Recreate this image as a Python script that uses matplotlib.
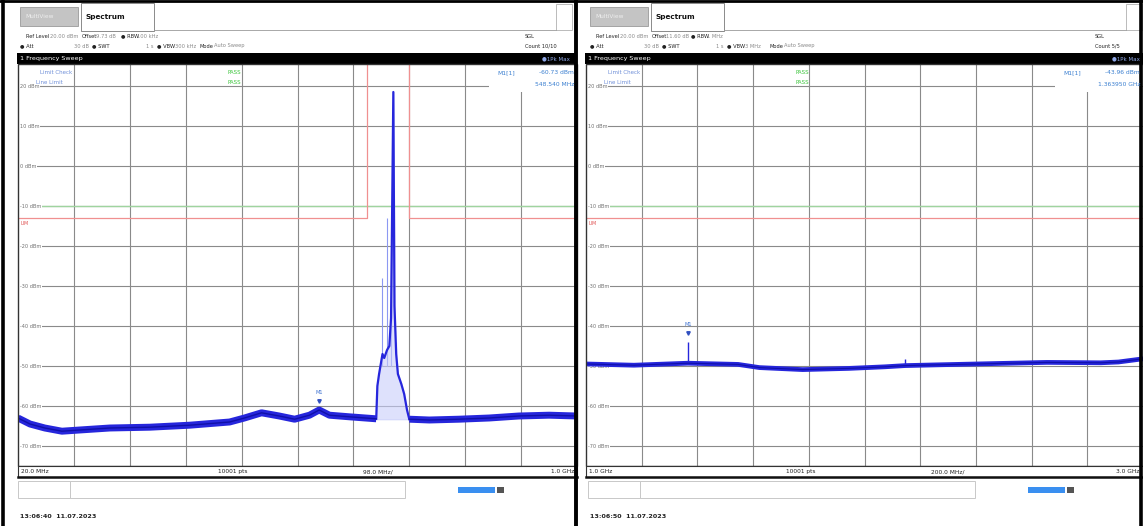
import numpy as np
import matplotlib
matplotlib.use("Agg")
import matplotlib.pyplot as plt
from matplotlib.patches import Rectangle

W, H = 1143, 526

# ---------------- data ----------------
# left sweep: 20 MHz .. 1 GHz (MHz, dBm)
left_noise_lo_f = [20, 41, 67, 97, 128, 181, 251, 321, 391, 417, 447, 478, 505, 531, 548, 566, 601, 648]
left_noise_lo_db = [-63, -64.5, -65.5, -66.3, -66, -65.5, -65.3, -64.8, -64, -63, -61.7, -62.5, -63.3,
                    -62.3, -61, -62.3, -62.7, -63.2]
left_signal_f = [648, 650, 653, 659, 662, 667, 671, 674, 678, 680, 683, 686, 692, 697, 702, 706]
left_signal_db = [-63.2, -55, -52, -47, -48, -46, -45, -38, 18.5, -35, -47, -52, -54.5, -57, -61, -63.3]
left_noise_hi_f = [706, 741, 793, 846, 898, 951, 1000]
left_noise_hi_db = [-63.3, -63.5, -63.3, -63, -62.5, -62.3, -62.5]
left_maxhold_f = [659, 667, 674, 683]
left_maxhold_db = [-28, -13, -20, -44]
left_limit_f = [20, 632, 632, 706, 706, 1000]
left_limit_db = [-13, -13, 40, 40, -13, -13]
left_marker = (548, -61)

# right sweep: 1 GHz .. 3 GHz (GHz, dBm)
right_f = [1.004, 1.172, 1.366, 1.546, 1.623, 1.778, 1.944, 2.074, 2.145, 2.268, 2.461, 2.655, 2.848, 2.912, 3.0]
right_db = [-49.5, -49.8, -49.3, -49.6, -50.4, -50.9, -50.6, -50.2, -49.9, -49.7, -49.4, -49.1, -49.2, -49.0, -48.2]
right_spike_f = [1.366, 2.145]
right_spike_db = [-44.0, -48.3]
right_limit_db = -13
right_marker = (1.366, -44.0)

display_line_db = -10
y_ticks = [20, 10, 0, -10, -20, -30, -40, -50, -60, -70]
y_labels = ["20 dBm", "10 dBm", "0 dBm", "-10 dBm", "-20 dBm", "-30 dBm", "-40 dBm", "-50 dBm", "-60 dBm", "-70 dBm"]

panels = [
    dict(x0=0, plot=(18, 64, 577, 466), xlim=(20, 1000), xstep=98,
         info=("20.00 dBm", "9.73 dB", "100 kHz", "30 dB", "1 s", "300 kHz", "Count 10/10"),
         xlab=("20.0 MHz", "10001 pts", "98.0 MHz/", "1.0 GHz"),
         mval=("-60.73 dBm", "548.540 MHz"), stamp="13:06:40  11.07.2023"),
    dict(x0=570, plot=(586, 64, 1143, 466), xlim=(1.0, 3.0), xstep=0.2,
         info=("20.00 dBm", "11.60 dB", "1 MHz", "30 dB", "1 s", "3 MHz", "Count 5/5"),
         xlab=("1.0 GHz", "10001 pts", "200.0 MHz/", "3.0 GHz"),
         mval=("-43.96 dBm", "1.363950 GHz"), stamp="13:06:50  11.07.2023"),
]

plt.rcParams['font.family'] = ['DejaVu Sans']
fig = plt.figure(figsize=(W / 100, H / 100), dpi=100)
fig.patch.set_facecolor('white')

def frac(x0, y0, x1, y1):
    return [x0 / W, 1 - y1 / H, (x1 - x0) / W, (y1 - y0) / H]

TRACE = '#2626dc'
DARK = '#1010a8'
GRID = '#8a8a8a'
GREEN = '#9fd49f'
RED = '#f09090'

axes = []
for i, p in enumerate(panels):
    ax = fig.add_axes(frac(*p['plot']))
    ax.set_zorder(1)
    ax.set_xlim(*p['xlim'])
    ax.set_ylim(-75, 25.5)
    xt = [p['xlim'][0] + k * p['xstep'] for k in range(1, 10)]
    ax.set_xticks(xt)
    ax.set_yticks(y_ticks)
    ax.tick_params(length=0, labelbottom=False, labelleft=False)
    ax.grid(True, color=GRID, lw=0.8)
    for s in ax.spines.values():
        s.set_visible(False)
    ax.axhline(display_line_db, color=GREEN, lw=1.0, zorder=2)
    if i == 0:
        ax.plot(left_limit_f, left_limit_db, color=RED, lw=0.9, zorder=2)
        ax.vlines(left_maxhold_f, -50, left_maxhold_db, color='#8c98f2', lw=0.8, zorder=4)
        for f, d in [(left_noise_lo_f, left_noise_lo_db), (left_noise_hi_f, left_noise_hi_db)]:
            ax.plot(f, d, color=TRACE, lw=5.0, solid_capstyle='butt', zorder=5)
            ax.plot(f, d, color=DARK, lw=1.0, zorder=6)
        ax.fill_between(left_signal_f, left_noise_hi_db[0], left_signal_db, color='#c8cdfa', alpha=0.6, zorder=4)
        ax.plot(left_signal_f, left_signal_db, color=TRACE, lw=1.6, zorder=5)
        mx, my = left_marker
    else:
        ax.axhline(right_limit_db, color=RED, lw=0.9, zorder=2)
        base = np.interp(right_spike_f, right_f, right_db)
        ax.vlines(right_spike_f, base, right_spike_db, color=TRACE, lw=1.0, zorder=5)
        ax.plot(right_f, right_db, color=TRACE, lw=3.4, zorder=5)
        ax.plot(right_f, right_db, color=DARK, lw=0.8, zorder=6)
        mx, my = right_marker
    ax.plot([mx], [my + 2.2], marker='v', ms=2.5, color='#3050c0', zorder=7)
    ax.text(mx, my + 4.3, "M1", fontsize=3.6, color='#3a6fd0', ha='center', va='center', zorder=7)
    for t, lab in zip(y_ticks, y_labels):
        ax.text(0.004, t, lab, transform=ax.get_yaxis_transform(), fontsize=3.6, color='#707070',
                ha='left', va='center', zorder=3,
                bbox=dict(boxstyle='square,pad=0.15', fc='white', ec='none'))
    ax.text(0.004, -14.3, "LIM", transform=ax.get_yaxis_transform(), fontsize=3.4, color='#e05050',
            ha='left', va='center', zorder=3)
    axes.append(ax)

# ---------------- chrome overlay ----------------
ov = fig.add_axes([0, 0, 1, 1])
ov.set_zorder(2)
ov.patch.set_alpha(0)
ov.set_xlim(0, W)
ov.set_ylim(H, 0)
ov.axis('off')

def txt(x, y, s, size=3.7, color='#222222', weight='normal', ha='left'):
    ov.text(x, y, s, fontsize=size, color=color, fontweight=weight, ha=ha, va='center')

for i, p in enumerate(panels):
    o = p['x0']
    px0, py0, px1, py1 = p['plot']
    right_edge = 572 + o
    # tabs
    ov.add_patch(Rectangle((20 + o, 7), 58, 19, fc='#c4c4c4', ec='#9a9a9a', lw=0.6))
    txt(25 + o, 17, "MultiView", size=4.2, color='#eeeeee')
    ov.add_patch(Rectangle((81 + o, 3), 73, 28, fc='white', ec='#8a8a8a', lw=0.7))
    txt(86 + o, 17, "Spectrum", size=5.2, color='#111111', weight='bold')
    ov.plot([154 + o, 556 + o], [30, 30], color='#9a9a9a', lw=0.6)
    ov.add_patch(Rectangle((556 + o, 4), 16, 26, fc='white', ec='#b0b0b0', lw=0.6))
    # info lines
    v = p['info']
    g = '#8a8a8a'
    txt(26 + o, 36, "Ref Level"); txt(50 + o, 36, v[0], color=g)
    txt(82 + o, 36, "Offset"); txt(96 + o, 36, v[1], color=g)
    txt(121 + o, 36, "\u25CF RBW"); txt(137 + o, 36, v[2], color=g)
    txt(20 + o, 46, "\u25CF Att"); txt(74 + o, 46, v[3], color=g)
    txt(92 + o, 46, "\u25CF SWT"); txt(146 + o, 46, v[4], color=g)
    txt(157 + o, 46, "\u25CF VBW"); txt(175 + o, 46, v[5], color=g)
    txt(200 + o, 46, "Mode"); txt(214 + o, 46, "Auto Sweep", color=g)
    txt(525 + o, 36, "SGL")
    txt(525 + o, 46, v[6])
    # black title bar
    bx = 17 + o if i == 0 else px0 - 1
    ov.add_patch(Rectangle((bx, 53), right_edge + 4 - bx, 11, fc='black', ec='none'))
    txt(px0 + 2, 58.5, "1 Frequency Sweep", size=4.6, color='white')
    txt(right_edge - 2, 58.5, "\u25CF1Pk Max", size=4.0, color='#8fa8e8', ha='right')
    # marker readout box
    ov.add_patch(Rectangle((px1 - 88, py0), 85, 28, fc='white', ec='none'))
    txt(px1 - 80, 73, "M1[1]", size=4.3, color='#3a7fd0')
    txt(px1 - 3, 73, p['mval'][0], size=4.3, color='#3a7fd0', ha='right')
    txt(px1 - 3, 84, p['mval'][1], size=4.3, color='#3a7fd0', ha='right')
    # limit check text
    txt(px0 + 22, 73, "Limit Check", size=4.0, color='#6f8fd8')
    txt(px0 + 18, 83, "Line Limit", size=4.0, color='#6f8fd8')
    txt(px0 + 210, 73, "PASS", size=4.0, color='#3cc43c')
    txt(px0 + 210, 83, "PASS", size=4.0, color='#3cc43c')
    # plot frame
    ov.add_patch(Rectangle((px0, py0), px1 - px0, py1 - py0, fc='none', ec='#333333', lw=1.0))
    # x label strip
    ov.add_patch(Rectangle((px0, py1), px1 - px0, 11, fc='white', ec='#333333', lw=0.8))
    ov.plot([px0, px1], [py1 + 11, py1 + 11], color='#111111', lw=1.8)
    xl = p['xlab']
    txt(px0 + 3, py1 + 5.5, xl[0], size=4.2)
    txt(px0 + 200, py1 + 5.5, xl[1], size=4.2)
    txt(px0 + 345, py1 + 5.5, xl[2], size=4.2)
    txt(px1 - 3, py1 + 5.5, xl[3], size=4.2, ha='right')
    # status bar
    ov.add_patch(Rectangle((18 + o, 481), 52, 17, fc='white', ec='#c8c8c8', lw=0.7))
    ov.add_patch(Rectangle((70 + o, 481), 335, 17, fc='white', ec='#c8c8c8', lw=0.7))
    ov.add_patch(Rectangle((458 + o, 487), 37, 6, fc='#3a8ff0', ec='none'))
    ov.add_patch(Rectangle((497 + o, 487), 7, 6, fc='#555555', ec='none'))
    txt(20 + o, 517, p['stamp'], size=4.6, color='#222222', weight='bold')

# black borders
ov.plot([2.5, 2.5], [0, H], color='black', lw=2.6)
ov.plot([575.5, 575.5], [0, H], color='black', lw=2.8)
ov.plot([1141, 1141], [0, H], color='black', lw=2.6)
ov.plot([0, W], [1, 1], color='black', lw=2.0)

fig.savefig("out.png", dpi=100, facecolor='white')
